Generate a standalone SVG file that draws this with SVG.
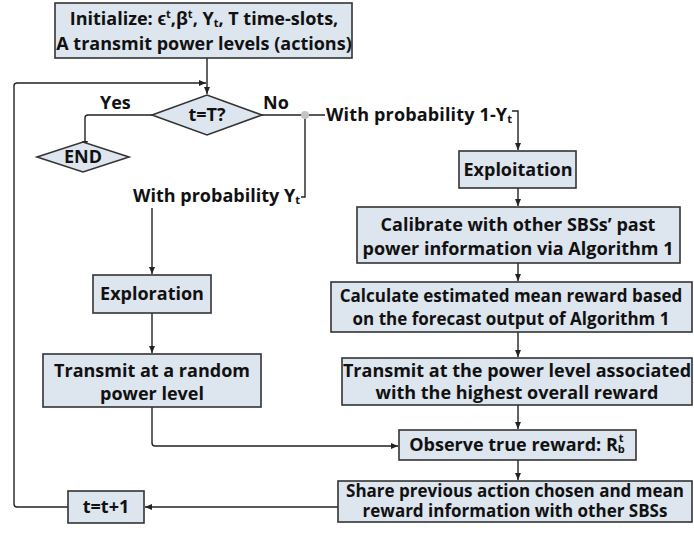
<svg xmlns="http://www.w3.org/2000/svg" width="694" height="533" viewBox="0 0 694 533">
<defs>
<marker id="ah" markerWidth="8" markerHeight="8" refX="7" refY="4" orient="auto" markerUnits="userSpaceOnUse">
<path d="M0,1 L7,4 L0,7 Z" fill="#222"/>
</marker>
<style>
.box{fill:#dde5ee;stroke:#333;stroke-width:1.6}
.t{font-family:"Open Sans","Liberation Sans",sans-serif;font-weight:bold;font-size:18px;fill:#111;text-anchor:middle}
.l{font-family:"Open Sans","Liberation Sans",sans-serif;font-weight:bold;font-size:18px;fill:#111}
.c{fill:none;stroke:#222;stroke-width:1.4}
.s{font-size:11px}
.sm{font-size:17px}
</style>
</defs>
<rect width="694" height="533" fill="#fff"/>
<g id="connectors">
<path class="c" d="M207,58 V94" marker-end="url(#ah)"/>
<path class="c" d="M68,507 H17 Q14,507 14,504 V86 Q14,83 17,83 H206" marker-end="url(#ah)"/>
<path class="c" d="M152,115 H88 Q85,115 85,118 V148" marker-end="url(#ah)"/>
<path class="c" d="M262,115 H325"/>
<path class="c" d="M512,111 H518 V150" marker-end="url(#ah)"/>
<path class="c" d="M305,115 V197 H301"/>
<path class="c" d="M152,208 V274" marker-end="url(#ah)"/>
<path class="c" d="M152,313 V353" marker-end="url(#ah)"/>
<path class="c" d="M152,407 V443 Q152,446 155,446 H398" marker-end="url(#ah)"/>
<path class="c" d="M518,188 V206" marker-end="url(#ah)"/>
<path class="c" d="M518,263 V281" marker-end="url(#ah)"/>
<path class="c" d="M518,332 V357" marker-end="url(#ah)"/>
<path class="c" d="M518,405 V429" marker-end="url(#ah)"/>
<path class="c" d="M518,460 V480" marker-end="url(#ah)"/>
<path class="c" d="M338,507 H145" marker-end="url(#ah)"/>
<circle cx="305" cy="115" r="4" fill="#c4c4c4"/>
</g>
<g id="labels">
<text class="l" x="100" y="109">Yes</text>
<text class="l" x="263" y="109">No</text>
<text class="l" x="326" y="121" textLength="186">With probability 1-Y<tspan class="s" dy="2">t</tspan></text>
<text class="l" x="133" y="202" textLength="167">With probability Y<tspan class="s" dy="2">t</tspan></text>
</g>
<g id="init">
<rect class="box" x="55" y="3" width="297" height="55"/>
<text class="t" x="204" y="25">Initialize: ϵ<tspan class="s" dy="-7">t</tspan><tspan dy="7">,β</tspan><tspan class="s" dy="-7">t</tspan><tspan dy="7">, Y</tspan><tspan class="s" dy="2">t</tspan><tspan dy="-2">, T time-slots,</tspan></text>
<text class="t" x="204" y="50">A transmit power levels (actions)</text>
</g>
<g id="decision">
<polygon class="box" points="152,115 207,95 262,115 207,135"/>
<text class="t" x="207" y="121">t=T?</text>
</g>
<g id="end">
<polygon class="box" points="37,157 83,142 129,157 83,172"/>
<text class="t" x="83" y="163">END</text>
</g>
<g id="exploration">
<rect class="box" x="93" y="275" width="118" height="38"/>
<text class="t" x="152" y="300">Exploration</text>
</g>
<g id="transmit-random">
<rect class="box" x="43" y="354" width="218" height="53"/>
<text class="t" x="152" y="377">Transmit at a random</text>
<text class="t" x="152" y="400">power level</text>
</g>
<g id="exploitation">
<rect class="box" x="459" y="151" width="117" height="37"/>
<text class="t" x="518" y="176">Exploitation</text>
</g>
<g id="calibrate">
<rect class="box" x="357" y="207" width="323" height="56"/>
<text class="t" x="518" y="231">Calibrate with other SBSs’ past</text>
<text class="t" x="518" y="255">power information via Algorithm 1</text>
</g>
<g id="calculate">
<rect class="box" x="331" y="282" width="361" height="50"/>
<text class="t sm" x="511" y="302">Calculate estimated mean reward based</text>
<text class="t sm" x="511" y="325">on the forecast output of Algorithm 1</text>
</g>
<g id="transmit-highest">
<rect class="box" x="342" y="358" width="350" height="47"/>
<text class="t" x="517" y="377">Transmit at the power level associated</text>
<text class="t" x="517" y="399">with the highest overall reward</text>
</g>
<g id="observe">
<rect class="box" x="399" y="430" width="237" height="30"/>
<text class="t" x="517" y="451">Observe true reward: R<tspan class="s" dy="2">b</tspan><tspan class="s" dx="-6" dy="-11">t</tspan></text>
</g>
<g id="share">
<rect class="box" x="338" y="481" width="354" height="41"/>
<text class="t sm" x="515" y="497">Share previous action chosen and mean</text>
<text class="t sm" x="515" y="517">reward information with other SBSs</text>
</g>
<g id="increment">
<rect class="box" x="68" y="491" width="76" height="32"/>
<text class="t" x="106" y="513">t=t+1</text>
</g>
</svg>
